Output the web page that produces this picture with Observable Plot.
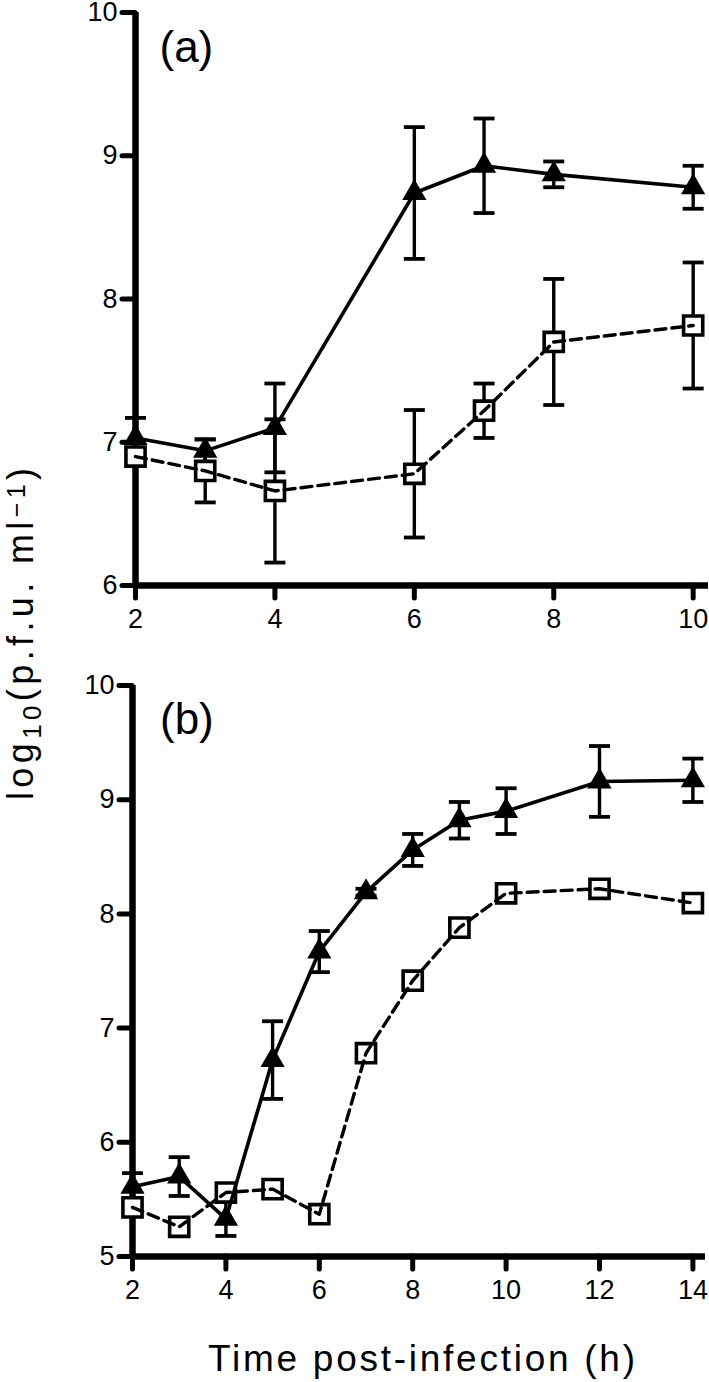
<!DOCTYPE html>
<html>
<head>
<meta charset="utf-8">
<script src="https://cdn.jsdelivr.net/npm/d3@7"></script>
<script src="https://cdn.jsdelivr.net/npm/@observablehq/plot@0.6"></script>
<style>
  body { margin: 0; background: white; }
  #wrap { position: relative; width: 709px; height: 1382px; background: white; font-family: "Liberation Sans", Arial, sans-serif; }
  .panel { position: absolute; left: 0; }
  #labels { position: absolute; left: 0; top: 0; pointer-events: none; }
</style>
</head>
<body>
<div id="wrap">
  <div id="pa" class="panel" style="top:0px"></div>
  <div id="pb" class="panel" style="top:640px"></div>
  <svg id="labels" width="709" height="1382" font-family="Liberation Sans, Arial, sans-serif" fill="black">
    <text transform="translate(33,634) rotate(-90)" text-anchor="middle" font-size="36" textLength="332" lengthAdjust="spacing"><tspan>log</tspan><tspan dy="8" font-size="26">10</tspan><tspan dy="-8">(p.f.u. ml</tspan><tspan dy="-8" font-size="25">−1</tspan><tspan dy="8">)</tspan></text>
    <text x="421.5" y="1371" text-anchor="middle" font-size="37" textLength="427" lengthAdjust="spacing">Time post-infection (h)</text>
  </svg>
</div>
<script>
// ---------- Panel (a) data ----------
const hoursA = [2, 3, 4, 6, 7, 8, 10];
const triA = [7.03, 6.94, 7.10, 8.74, 8.93, 8.87, 8.78];
const triAErr = [0.14, 0.08, 0.31, 0.46, 0.33, 0.09, 0.15];
const sqA = [6.90, 6.80, 6.66, 6.78, 7.22, 7.70, 7.815];
const sqAErr = [0.05, 0.22, 0.50, 0.445, 0.19, 0.44, 0.44];
const xTicksA = [2, 4, 6, 8, 10];
const yTicksA = [6, 7, 8, 9, 10];
const xDomainA = [2, 10.22];
const yDomainA = [6, 10];
const labelA = "(a)";

// ---------- Panel (b) data ----------
const hoursB = [2, 3, 4, 5, 6, 7, 8, 9, 10, 12, 14];
const triB = [5.61, 5.70, 5.33, 6.72, 7.67, 8.19, 8.56, 8.82, 8.90, 9.16, 9.17];
const triBErr = [0.12, 0.17, 0.15, 0.34, 0.18, 0.03, 0.14, 0.16, 0.20, 0.31, 0.19];
const sqB = [5.43, 5.26, 5.56, 5.59, 5.37, 6.78, 7.415, 7.88, 8.18, 8.22, 8.095];
const sqBErr = [0.03, 0.06, 0.03, 0.02, 0.02, 0.02, 0.06, 0.03, 0.02, 0.02, 0.02];
const xTicksB = [2, 4, 6, 8, 10, 12, 14];
const yTicksB = [5, 6, 7, 8, 9, 10];
const xDomainB = [2, 14.27];
const yDomainB = [5, 10];
const labelB = "(b)";

const FONT = "Liberation Sans, Arial, sans-serif";

// horizontal cap symbol for error bars
const capSymbol = {
  draw(ctx, size) {
    const w = Math.sqrt(size / Math.PI);
    ctx.moveTo(-w, 0);
    ctx.lineTo(w, 0);
  }
};

function rows(hours, vals, errs) {
  return hours.map((h, i) => ({x: h, y: vals[i], lo: vals[i] - errs[i], hi: vals[i] + errs[i]}));
}

function panel({hours, tri, triErr, sq, sqErr, xTicks, yTicks, xDomain, yDomain, label,
                width, height, marginLeft, marginRight, marginTop, marginBottom, labelDx, labelDy}) {
  const T = rows(hours, tri, triErr);
  const S = rows(hours, sq, sqErr);
  const errMarks = (data) => [
    Plot.ruleX(data, {x: "x", y1: "lo", y2: "hi", strokeWidth: 3.4, stroke: "black"}),
    Plot.dot(data, {x: "x", y: "hi", symbol: capSymbol, r: 10.5, stroke: "black", strokeWidth: 3.8, fill: "none"}),
    Plot.dot(data, {x: "x", y: "lo", symbol: capSymbol, r: 10.5, stroke: "black", strokeWidth: 3.8, fill: "none"})
  ];
  return Plot.plot({
    width, height, marginLeft, marginRight, marginTop, marginBottom,
    style: {fontFamily: FONT, fontSize: "27px", color: "black", background: "white", overflow: "visible"},
    x: {domain: xDomain},
    y: {domain: yDomain},
    marks: [
      Plot.axisX({ticks: xTicks, tickSize: 13, tickPadding: 10, strokeWidth: 5, strokeLinecap: "round", label: null, tickFormat: d => String(d), fontSize: 27}),
      Plot.axisY({ticks: yTicks, tickSize: 13, tickPadding: 5, strokeWidth: 5, strokeLinecap: "round", label: null, tickFormat: d => String(d), fontSize: 27}),
      Plot.ruleX([xDomain[0]], {y1: yDomain[0], y2: yDomain[1], strokeWidth: 6.5, stroke: "black"}),
      Plot.ruleY([yDomain[0]], {x1: xDomain[0], x2: xDomain[1], strokeWidth: 6.5, stroke: "black"}),
      ...errMarks(S),
      ...errMarks(T),
      Plot.dot(S, {x: "x", y: "y", symbol: "square", r: 10.8, fill: "white", stroke: "black", strokeWidth: 3.6}),
      Plot.line(S, {x: "x", y: "y", stroke: "black", strokeWidth: 3.4, strokeDasharray: "11,6"}),
      Plot.line(T, {x: "x", y: "y", stroke: "black", strokeWidth: 3.6}),
      Plot.dot(T, {x: "x", y: "y", symbol: "triangle", r: 9, fill: "black", stroke: "none"}),
      Plot.text([label], {frameAnchor: "top-left", dx: labelDx, dy: labelDy, lineAnchor: "bottom", textAnchor: "start", fontSize: 44, fill: "black"})
    ]
  });
}

document.getElementById("pa").append(panel({
  hours: hoursA, tri: triA, triErr: triAErr, sq: sqA, sqErr: sqAErr,
  xTicks: xTicksA, yTicks: yTicksA, xDomain: xDomainA, yDomain: yDomainA, label: labelA,
  width: 709, height: 630, marginLeft: 135, marginRight: 1, marginTop: 12, marginBottom: 45,
  labelDx: 24, labelDy: 49.5
}));

document.getElementById("pb").append(panel({
  hours: hoursB, tri: triB, triErr: triBErr, sq: sqB, sqErr: sqBErr,
  xTicks: xTicksB, yTicks: yTicksB, xDomain: xDomainB, yDomain: yDomainB, label: labelB,
  width: 709, height: 661, marginLeft: 132, marginRight: 4, marginTop: 45, marginBottom: 45,
  labelDx: 27.5, labelDy: 48.3
}));
</script>
</body>
</html>
